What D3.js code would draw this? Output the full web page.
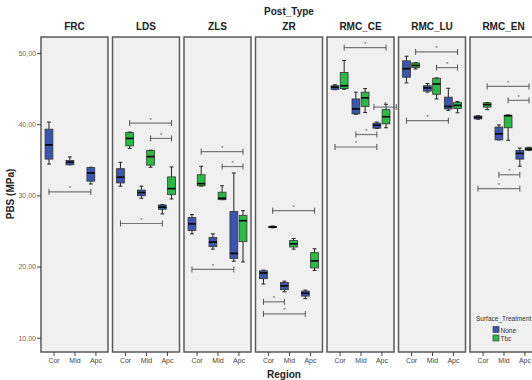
<!DOCTYPE html>
<html><head><meta charset="utf-8">
<script src="https://cdn.jsdelivr.net/npm/d3@7"></script>
<style>body{margin:0;background:#fff}svg{display:block}text{font-family:"Liberation Sans",Arial,sans-serif}</style>
</head><body><svg id="c" width="532" height="380"></svg>
<script>
const panels = ["FRC","LDS","ZLS","ZR","RMC_CE","RMC_LU","RMC_EN"];
const regions = ["Cor","Mid","Apc"];
const series = ["None","Tbc"];
const yTicks = [10,20,30,40,50];
// box stats per region: [whiskerLow, q1, median, q3, whiskerHigh]
const FRC_None = [[34.4,35.1,37.1,39.3,40.3],[34.3,34.3,34.65,34.9,35.4],[31.6,32.0,33.15,33.9,33.95]];
const FRC_Tbc = [];
const LDS_None = [[31.3,31.75,32.55,33.75,34.65],[29.6,29.95,30.4,30.75,31.3],[27.4,28.05,28.35,28.65,28.7]];
const LDS_Tbc = [[36.6,36.95,38.0,38.85,38.9],[33.95,34.25,35.45,36.3,36.35],[29.5,30.1,30.95,32.6,34.0]];
const ZLS_None = [[24.6,25.05,26.0,26.9,27.3],[22.45,22.8,23.45,24.1,24.6],[20.75,21.15,21.85,27.75,33.15]];
const ZLS_Tbc = [[31.3,31.35,31.65,32.9,34.1],[29.4,29.4,29.6,30.45,31.35],[20.65,23.5,26.45,27.2,27.85]];
const ZR_None = [[17.55,18.3,19.1,19.4,19.5],[16.45,16.75,17.3,17.75,17.95],[15.5,15.85,16.25,16.55,16.7]];
const ZR_Tbc = [[25.45,25.5,25.55,25.65,25.7],[22.45,22.75,23.2,23.65,23.95],[19.45,19.8,20.8,21.95,22.5]];
const CE_None = [[44.85,44.9,45.2,45.4,45.55],[41.4,41.45,42.15,43.55,44.5],[39.4,39.45,39.85,40.15,40.3]];
const CE_Tbc = [[44.9,45.0,45.4,47.25,48.95],[41.65,42.5,43.7,44.5,45.0],[39.5,40.05,41.05,42.05,42.8]];
const LU_None = [[45.8,46.6,47.8,48.9,49.55],[44.5,44.65,45.1,45.4,45.7],[41.95,42.15,42.5,43.8,45.05]];
const LU_Tbc = [[47.75,47.95,48.25,48.6,48.65],[43.55,44.2,45.65,46.45,46.5],[41.6,42.2,42.65,43.05,43.2]];
const EN_None = [[40.7,40.75,40.95,41.15,41.2],[37.8,37.8,38.65,39.6,39.9],[34.1,35.1,35.9,36.3,36.65]];
const EN_Tbc = [[42.05,42.4,42.75,43.0,43.05],[37.75,39.5,41.2,41.25,41.3],[36.3,36.35,36.5,36.7,36.75]];
// significance bars: [panel, from, to, y]; from/to = "Region:Series" or category index number
const sigBars = [
  ["FRC","Cor:None","Apc:None",30.5],
  ["LDS","Cor:Tbc","Apc:Tbc",40.15],["LDS","Mid:Tbc","Apc:Tbc",38.0],["LDS","Cor:None","Apc:None",26.05],
  ["ZLS","Cor:Tbc","Apc:Tbc",36.15],["ZLS","Mid:Tbc","Apc:Tbc",34.05],["ZLS","Cor:None","Apc:None",19.6],
  ["ZR","Cor:Tbc","Apc:Tbc",27.85],["ZR","Cor:None","Mid:None",15.05],["ZR","Cor:None","Apc:None",13.35],
  ["RMC_CE","Cor:Tbc","Apc:Tbc",50.75],["RMC_CE",1.64,2.71,42.4],["RMC_CE","Mid:None","Apc:None",38.55],["RMC_CE","Cor:None","Apc:None",36.8],
  ["RMC_LU","Cor:Tbc","Apc:Tbc",50.15],["RMC_LU","Mid:Tbc","Apc:Tbc",47.95],["RMC_LU","Cor:None","Apc:None",40.5],
  ["RMC_EN","Cor:Tbc","Apc:Tbc",45.3],["RMC_EN","Mid:Tbc","Apc:Tbc",43.35],["RMC_EN","Mid:None","Apc:None",32.9],["RMC_EN","Cor:None","Apc:None",30.95]
];
const stats = {
  FRC:{None:FRC_None,Tbc:FRC_Tbc}, LDS:{None:LDS_None,Tbc:LDS_Tbc}, ZLS:{None:ZLS_None,Tbc:ZLS_Tbc},
  ZR:{None:ZR_None,Tbc:ZR_Tbc}, RMC_CE:{None:CE_None,Tbc:CE_Tbc}, RMC_LU:{None:LU_None,Tbc:LU_Tbc},
  RMC_EN:{None:EN_None,Tbc:EN_Tbc}
};
const colors = {None:"#3d56ad", Tbc:"#2eb848"};

const svg = d3.select("#c");
const plotTop = 37, plotBottom = 352;
const y = d3.scaleLinear().domain([8, 52.25]).range([plotBottom, plotTop]);
const px = d3.scaleBand().domain(panels).range([41, 537]).paddingInner(0.063).paddingOuter(0);
const sx = d3.scaleBand().domain(series).range([-8.5, 8.5]).paddingInner(0.15);

svg.append("text").attr("x", 289).attr("y", 15).attr("text-anchor","middle")
  .attr("font-size", 10).attr("font-weight","bold").attr("fill","#222").text("Post_Type");

panels.forEach(p => {
  const x0 = px(p), w = px.bandwidth();
  const xs = d3.scalePoint().domain(regions).range([x0, x0 + w]).padding(0.6);
  const xi = d3.scaleLinear().domain([0, 2]).range([xs("Cor"), xs("Apc")]);
  const g = svg.append("g");
  g.append("rect").attr("x", x0).attr("y", plotTop).attr("width", w).attr("height", plotBottom - plotTop)
    .attr("fill","#f0f0f0").attr("stroke","#5a5a5a").attr("stroke-width",1.5);
  g.append("text").attr("x", x0 + w/2).attr("y", 30).attr("text-anchor","middle")
    .attr("font-size", 10).attr("font-weight","bold").attr("fill","#222").text(p);
  const ax = g.append("g").attr("transform", `translate(0,${plotBottom})`)
    .call(d3.axisBottom(xs).tickSize(4).tickPadding(2));
  ax.select(".domain").remove();
  ax.selectAll("line").attr("stroke","#444");
  ax.selectAll("text").attr("font-size", 7).attr("fill","#444")
    .style("font-family","'Liberation Sans',Arial,sans-serif");
  series.forEach(s => {
    const data = stats[p][s];
    data.forEach((d, i) => {
      const cx = xs(regions[i]) + sx(s) + sx.bandwidth()/2;
      const bw = sx.bandwidth();
      const bg = g.append("g");
      bg.append("line").attr("x1", cx).attr("x2", cx).attr("y1", y(d[0])).attr("y2", y(d[4]))
        .attr("stroke","#222").attr("stroke-width",1);
      [d[0], d[4]].forEach(v => bg.append("line").attr("x1", cx - bw/4).attr("x2", cx + bw/4)
        .attr("y1", y(v)).attr("y2", y(v)).attr("stroke","#222").attr("stroke-width",1));
      bg.append("rect").attr("x", cx - bw/2).attr("y", y(d[3])).attr("width", bw)
        .attr("height", Math.max(1, y(d[1]) - y(d[3]))).attr("fill", colors[s])
        .attr("stroke","#333").attr("stroke-width",0.8);
      bg.append("line").attr("x1", cx - bw/2).attr("x2", cx + bw/2).attr("y1", y(d[2])).attr("y2", y(d[2]))
        .attr("stroke","#000").attr("stroke-width",1.6);
    });
  });
  const pos = v => {
    if (typeof v === "number") return xi(v);
    const [r, s] = v.split(":");
    return xs(r) + sx(s) + sx.bandwidth()/2;
  };
  sigBars.filter(b => b[0] === p).forEach(b => {
    const x1 = pos(b[1]), x2 = pos(b[2]), yy = y(b[3]);
    g.append("line").attr("x1", x1).attr("x2", x2).attr("y1", yy).attr("y2", yy)
      .attr("stroke","#777").attr("stroke-width",1.2);
    [x1, x2].forEach(xx => g.append("line").attr("x1", xx).attr("x2", xx).attr("y1", yy - 3).attr("y2", yy + 3)
      .attr("stroke","#555").attr("stroke-width",1));
    g.append("text").attr("x", (x1 + x2)/2).attr("y", yy - 1.5).attr("text-anchor","middle")
      .attr("font-size", 6).attr("fill","#555").text("*");
  });
});

const ya = svg.append("g").attr("transform", `translate(${px("FRC")},0)`)
  .call(d3.axisLeft(y).tickValues(yTicks).tickSize(4).tickPadding(1)
    .tickFormat(d => d3.format(".2f")(d).replace(".", ",")));
ya.select(".domain").remove();
ya.selectAll("line").attr("stroke","#444");
ya.selectAll("text").attr("font-size", 7).attr("fill","#666")
  .style("font-family","'Liberation Sans',Arial,sans-serif");

svg.append("text").attr("transform","translate(14,194) rotate(-90)").attr("text-anchor","middle")
  .attr("font-size", 10).attr("font-weight","bold").attr("fill","#222").text("PBS (MPa)");
svg.append("text").attr("x", 284).attr("y", 378).attr("text-anchor","middle")
  .attr("font-size", 10).attr("font-weight","bold").attr("fill","#222").text("Region");

const lg = svg.append("g");
lg.append("text").attr("x", 476).attr("y", 321).attr("font-size", 6.5).attr("fill","#333").text("Surface_Treatment");
series.forEach((s, i) => {
  lg.append("rect").attr("x", 493).attr("y", 326.5 + i*8.5).attr("width", 6).attr("height", 6)
    .attr("fill", colors[s]).attr("stroke","#333").attr("stroke-width",0.6);
  lg.append("text").attr("x", 500.5).attr("y", 332.5 + i*8.5).attr("font-size", 6.5).attr("fill","#333").text(s);
});
</script></body></html>
